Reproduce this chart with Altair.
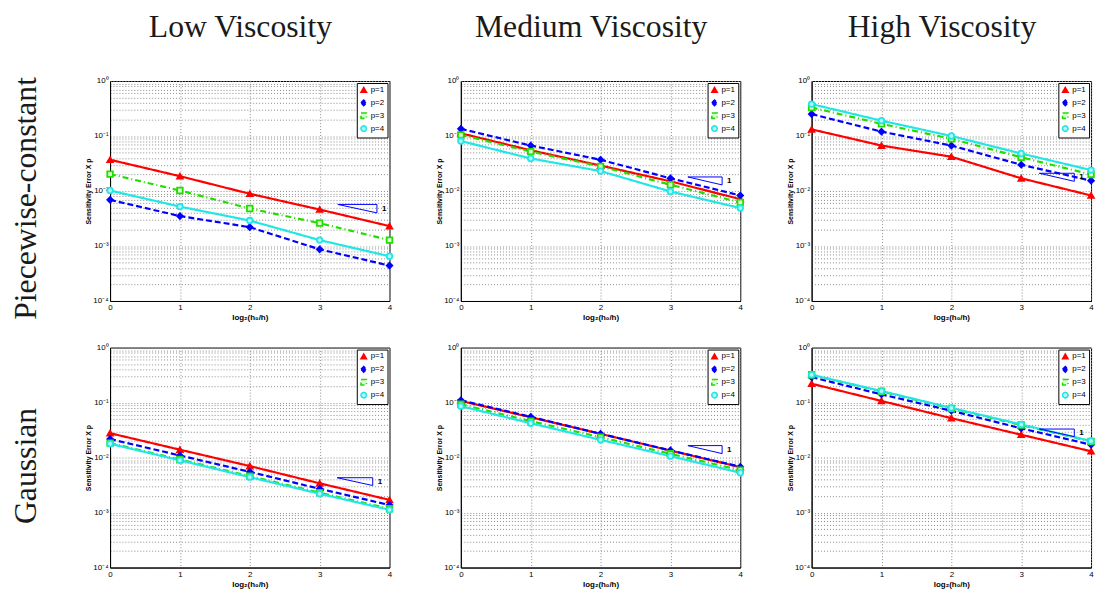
import altair as alt
import pandas as pd

# ---------------- data ----------------
x_steps = [0, 1, 2, 3, 4]
p_labels = ["p=1", "p=2", "p=3", "p=4"]
col_titles = ["Low Viscosity", "Medium Viscosity", "High Viscosity"]
row_titles = ["Piecewise-constant", "Gaussian"]

# Piecewise-constant, low viscosity
low_pc_p1 = [0.037, 0.0186, 0.0089, 0.0046, 0.0023]
low_pc_p2 = [0.0069, 0.0035, 0.0022, 0.00087, 0.00044]
low_pc_p3 = [0.0203, 0.0102, 0.0048, 0.0026, 0.00128]
low_pc_p4 = [0.0102, 0.0052, 0.0029, 0.00128, 0.00065]
# Piecewise-constant, medium viscosity
med_pc_p1 = [0.112, 0.055, 0.029, 0.015, 0.0071]
med_pc_p2 = [0.135, 0.067, 0.037, 0.017, 0.0083]
med_pc_p3 = [0.105, 0.052, 0.028, 0.013, 0.0062]
med_pc_p4 = [0.081, 0.039, 0.023, 0.0098, 0.0049]
# Piecewise-constant, high viscosity
high_pc_p1 = [0.132, 0.067, 0.042, 0.017, 0.0083]
high_pc_p2 = [0.25, 0.12, 0.067, 0.030, 0.0154]
high_pc_p3 = [0.33, 0.166, 0.089, 0.041, 0.020]
high_pc_p4 = [0.38, 0.19, 0.10, 0.048, 0.024]
# Gaussian, low viscosity
low_g_p1 = [0.0277, 0.0139, 0.0070, 0.0034, 0.0017]
low_g_p2 = [0.0217, 0.0109, 0.0055, 0.0027, 0.00137]
low_g_p3 = [0.0183, 0.0092, 0.0046, 0.0023, 0.00117]
low_g_p4 = [0.0178, 0.0089, 0.0044, 0.0022, 0.00112]
# Gaussian, medium viscosity
med_g_p1 = [0.107, 0.054, 0.027, 0.0134, 0.0067]
med_g_p2 = [0.110, 0.055, 0.027, 0.0135, 0.0068]
med_g_p3 = [0.093, 0.046, 0.0234, 0.0117, 0.0059]
med_g_p4 = [0.086, 0.042, 0.021, 0.0106, 0.0053]
# Gaussian, high viscosity
high_g_p1 = [0.22, 0.107, 0.052, 0.026, 0.0130]
high_g_p2 = [0.29, 0.141, 0.071, 0.034, 0.0171]
high_g_p3 = [0.32, 0.159, 0.078, 0.039, 0.0196]
high_g_p4 = [0.32, 0.162, 0.080, 0.040, 0.020]

# slope-1 triangles (panel order: row by row)
tri_x_left = [3.26, 3.25, 3.26, 3.25, 3.25, 3.26]
tri_x_right = [3.82, 3.74, 3.76, 3.76, 3.74, 3.76]
tri_top = [0.0057, 0.018, 0.021, 0.0043, 0.0165, 0.033]
tri_bot = [0.0040, 0.0129, 0.015, 0.0031, 0.0118, 0.024]

panels = [
    [low_pc_p1, low_pc_p2, low_pc_p3, low_pc_p4],
    [med_pc_p1, med_pc_p2, med_pc_p3, med_pc_p4],
    [high_pc_p1, high_pc_p2, high_pc_p3, high_pc_p4],
    [low_g_p1, low_g_p2, low_g_p3, low_g_p4],
    [med_g_p1, med_g_p2, med_g_p3, med_g_p4],
    [high_g_p1, high_g_p2, high_g_p3, high_g_p4],
]

# ---------------- styling ----------------
colors = ["#ff0000", "#0000ff", "#22dd00", "#22e6e6"]
fills = ["#ff0000", "#0000ff", "#d8ffd0", "#b8f6f6"]
dashes = [[1, 0], [6, 3], [6, 3, 1, 3], [1, 0]]
shapes = ["triangle-up", "diamond", "square", "circle"]

y_tick_vals = [m * 10.0 ** e for e in range(-4, 0) for m in range(1, 10)] + [1.0]
y_label_expr = (
    "datum.value == 1 ? '10⁰' : datum.value == 0.1 ? '10⁻¹' : "
    "datum.value == 0.01 ? '10⁻²' : datum.value == 0.001 ? '10⁻³' : "
    "datum.value == 0.0001 ? '10⁻⁴' : ''"
)

AX_FONT = "Liberation Sans"
SERIF = "Liberation Serif"
GRID_DASH = [1, 2]
GRID_COLOR = "#8c8c8c"
PW, PH = 282, 222

x_enc = alt.X(
    "x:Q",
    scale=alt.Scale(domain=[0, 4], nice=False, zero=False),
    axis=alt.Axis(
        values=x_steps, format="d", title="log₂(h₀/h)", grid=True,
        gridDash=GRID_DASH, gridColor=GRID_COLOR, ticks=False,
        labelFontSize=8, titleFontSize=8, titleFontWeight="bold",
        labelPadding=3, titlePadding=2, labelFlush=False,
        labelFont=AX_FONT, titleFont=AX_FONT, domainColor="black",
        labelColor="black", titleColor="black",
    ),
)
y_enc = alt.Y(
    "y:Q",
    scale=alt.Scale(type="log", domain=[1e-4, 1], nice=False),
    axis=alt.Axis(
        values=y_tick_vals, labelExpr=y_label_expr, title="Sensitivity Error X p",
        grid=True, gridDash=GRID_DASH, gridColor=GRID_COLOR, ticks=False,
        labelFontSize=8, titleFontSize=7, titleFontWeight="bold",
        labelPadding=2, titlePadding=1, labelFont=AX_FONT, titleFont=AX_FONT,
        domainColor="black", labelColor="black", titleColor="black",
        labelOverlap=False,
    ),
)
x_plain = alt.X("x:Q")
y_plain = alt.Y("y:Q")

color_scale = alt.Scale(domain=p_labels, range=colors)
fill_scale = alt.Scale(domain=p_labels, range=fills)
dash_scale = alt.Scale(domain=p_labels, range=dashes)
shape_scale = alt.Scale(domain=p_labels, range=shapes)


def make_panel(i):
    series = panels[i]
    rows = []
    for p, vals in zip(p_labels, series):
        for xv, yv in zip(x_steps, vals):
            rows.append({"x": xv, "y": yv, "p": p})
    df = pd.DataFrame(rows)
    tri_df = pd.DataFrame({
        "x": [tri_x_left[i], tri_x_right[i], tri_x_right[i], tri_x_left[i]],
        "y": [tri_top[i], tri_top[i], tri_bot[i], tri_top[i]],
        "k": [0, 1, 2, 3],
    })
    lab_df = pd.DataFrame({
        "x": [tri_x_right[i]],
        "y": [(tri_top[i] * tri_bot[i]) ** 0.5],
    })
    base = alt.Chart(df)
    lines = base.mark_line(strokeWidth=2.2).encode(
        x=x_enc, y=y_enc,
        color=alt.Color("p:N", scale=color_scale, title=None),
        strokeDash=alt.StrokeDash("p:N", scale=dash_scale, title=None),
    )
    pts = base.mark_point(filled=False, strokeWidth=1.8, size=32, opacity=1).encode(
        x=x_plain, y=y_plain,
        color=alt.Color("p:N", scale=color_scale, title=None),
        fill=alt.Fill("p:N", scale=fill_scale, title=None),
        shape=alt.Shape("p:N", scale=shape_scale, title=None),
    )
    tri = alt.Chart(tri_df).mark_line(color="#0000ff", strokeWidth=1).encode(
        x=x_plain, y=y_plain, order="k:O"
    )
    lab = alt.Chart(lab_df).mark_text(
        text="1", align="left", baseline="middle", dx=5, fontSize=8,
        fontWeight="bold", font=AX_FONT, color="black"
    ).encode(x=x_plain, y=y_plain)
    return alt.layer(lines, pts, tri, lab).properties(width=PW, height=PH)


def col_title(t):
    return alt.TitleParams(
        t, font=SERIF, fontSize=32, fontWeight="normal", anchor="middle",
        frame="bounds", offset=33, color="#1a1a1a",
    )


def row_title(t, dx):
    return alt.TitleParams(
        t, orient="left", font=SERIF, fontSize=32, fontWeight="normal",
        anchor="middle", offset=42, color="#1a1a1a", dx=dx,
    )


top_panels = [make_panel(i).properties(title=col_title(col_titles[i])) for i in range(3)]
bot_panels = [make_panel(i) for i in range(3, 6)]

indep = dict(color="independent", shape="independent", strokeDash="independent",
             fill="independent", x="independent", y="independent")

row1 = alt.hconcat(*top_panels, spacing=39, title=row_title(row_titles[0], -32)).resolve_scale(**indep)
row2 = alt.hconcat(*bot_panels, spacing=39, title=row_title(row_titles[1], 0)).resolve_scale(**indep)

chart = (
    alt.vconcat(row1, row2, spacing=20)
    .resolve_scale(**indep)
    .properties(padding={"left": 2, "right": 0, "top": 0, "bottom": 0})
    .configure_view(stroke="black", strokeWidth=1)
    .configure_legend(
        orient="top-right", offset=2, padding=3, fillColor="white",
        strokeColor="black", labelFontSize=8, labelFont=AX_FONT,
        symbolSize=30, rowPadding=1, labelOffset=3, symbolStrokeWidth=1.6,
        labelColor="black", cornerRadius=0,
    )
)

chart.save("out.html", embed_options={"renderer": "svg", "actions": False})
